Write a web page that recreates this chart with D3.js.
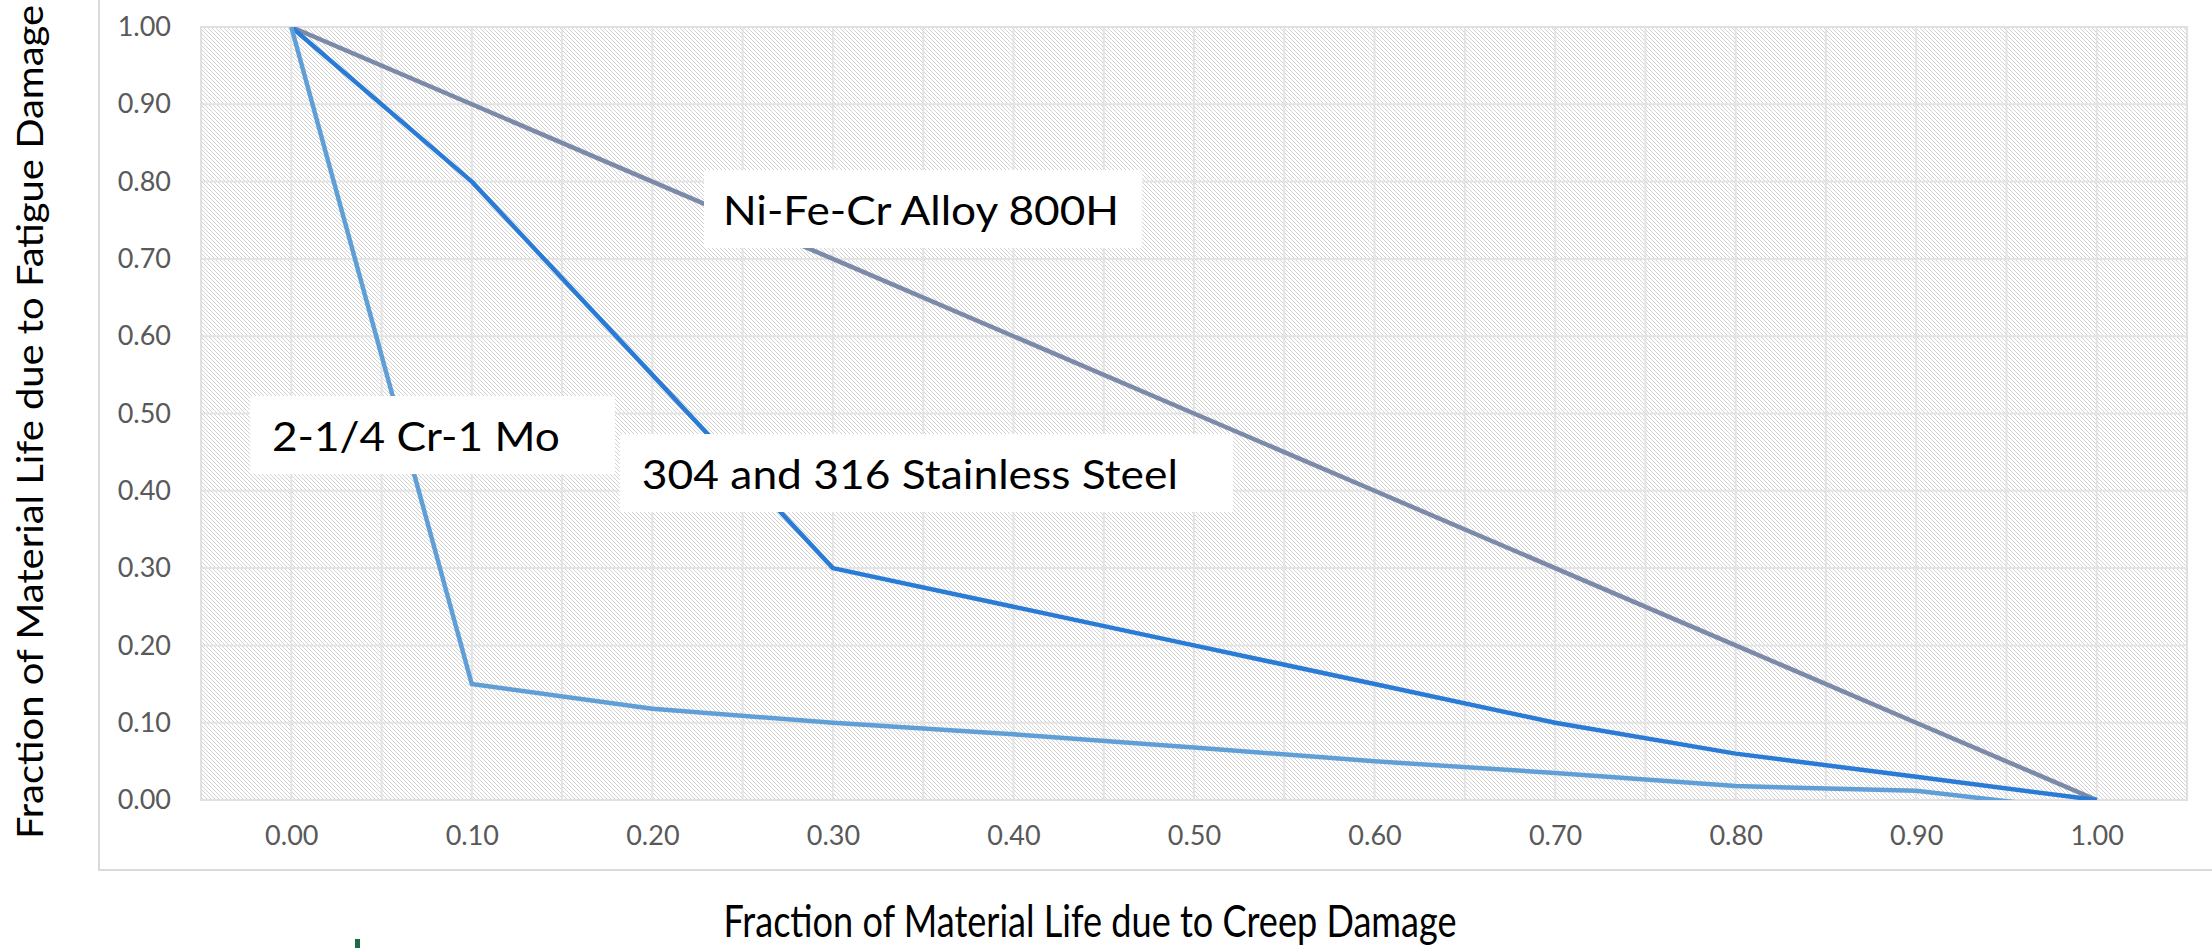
<!DOCTYPE html>
<html>
<head>
<meta charset="utf-8">
<script src="https://cdn.jsdelivr.net/npm/d3@7.9.0/dist/d3.min.js"></script>
<style>
  html, body { margin: 0; padding: 0; background: #fff; }
  svg { display: block; font-family: Lato, "Noto Sans", sans-serif; }
</style>
</head>
<body>
<svg id="chart" width="2212" height="948"></svg>
<script>
// ---- Data ----
const creepFraction = [0, 0.1, 0.2, 0.3, 0.4, 0.5, 0.6, 0.7, 0.8, 0.9, 1.0];
const alloy800H = [1.0, 0.9, 0.8, 0.7, 0.6, 0.5, 0.4, 0.3, 0.2, 0.1, 0.0];
const stainless304316 = [1.0, 0.8, 0.55, 0.3, 0.25, 0.2, 0.15, 0.1, 0.06, 0.03, 0.0];
const crMo = [1.0, 0.15, 0.118, 0.1, 0.085, 0.068, 0.05, 0.035, 0.018, 0.012, -0.015];
const yTicks = [0, 0.1, 0.2, 0.3, 0.4, 0.5, 0.6, 0.7, 0.8, 0.9, 1.0];
const xTicks = [0, 0.1, 0.2, 0.3, 0.4, 0.5, 0.6, 0.7, 0.8, 0.9, 1.0];

const seriesNames = ['Ni-Fe-Cr Alloy 800H', '304 and 316 Stainless Steel', '2-1/4 Cr-1 Mo'];
const seriesValues = [alloy800H, stainless304316, crMo];
const seriesColors = ['#7a8aa8', '#2a7bd6', '#5f9fd6'];

// ---- Layout ----
const svg = d3.select('#chart');
const plot = { left: 201, right: 2187, top: 27, bottom: 800 };

const x = d3.scaleLinear().domain([-0.05, 1.05]).range([plot.left, plot.right]);
const y = d3.scaleLinear().domain([0, 1]).range([plot.bottom, plot.top]);

// hatch fill for plot area
const defs = svg.append('defs');
const pat = defs.append('pattern')
  .attr('id', 'hatch')
  .attr('patternUnits', 'userSpaceOnUse')
  .attr('width', 4).attr('height', 4);
pat.append('rect').attr('width', 4).attr('height', 4).attr('fill', '#fff');
d3.range(4).forEach((i) => {
  pat.append('rect').attr('x', i).attr('y', i).attr('width', 1).attr('height', 1).attr('fill', '#d2d2d2');
});
defs.append('clipPath').attr('id', 'plotClip')
  .append('rect')
  .attr('x', plot.left).attr('y', plot.top)
  .attr('width', plot.right - plot.left).attr('height', plot.bottom - plot.top);

// chart area frame (partly outside picture)
svg.append('rect')
  .attr('x', 99).attr('y', -20)
  .attr('width', 2300).attr('height', 890)
  .attr('fill', 'none').attr('stroke', '#d9d9d9').attr('stroke-width', 2);

svg.append('rect')
  .attr('x', plot.left).attr('y', plot.top)
  .attr('width', plot.right - plot.left).attr('height', plot.bottom - plot.top)
  .attr('fill', 'url(#hatch)');

// gridlines
const grid = svg.append('g').attr('stroke', '#e3e3e3').attr('stroke-width', 2);
d3.range(0, 23).forEach((i) => {
  const gx = x(-0.05 + i * 0.05);
  grid.append('line').attr('x1', gx).attr('x2', gx).attr('y1', plot.top).attr('y2', plot.bottom);
});
yTicks.forEach((t) => {
  grid.append('line').attr('x1', plot.left).attr('x2', plot.right).attr('y1', y(t)).attr('y2', y(t));
});
svg.append('rect')
  .attr('x', plot.left).attr('y', plot.top)
  .attr('width', plot.right - plot.left).attr('height', plot.bottom - plot.top)
  .attr('fill', 'none').attr('stroke', '#e0e0e0').attr('stroke-width', 2);

// axes
const fmt = d3.format('.2f');
const yAxis = svg.append('g')
  .attr('transform', `translate(${plot.left - 27},0)`)
  .call(d3.axisLeft(y).tickValues(yTicks).tickFormat(fmt).tickSize(0));
const xAxis = svg.append('g')
  .attr('transform', `translate(0,${plot.bottom + 23})`)
  .call(d3.axisBottom(x).tickValues(xTicks).tickFormat(fmt).tickSize(0));
[yAxis, xAxis].forEach((a) => {
  a.select('.domain').remove();
  a.selectAll('text')
    .attr('fill', '#595959')
    .style('font-size', '27px')
    .style('font-family', 'Lato, "Noto Sans", sans-serif');
});

// lines
const line = d3.line()
  .x((d) => x(d[0]))
  .y((d) => y(d[1]));
const lines = svg.append('g').attr('clip-path', 'url(#plotClip)');
seriesValues.forEach((vals, i) => {
  lines.append('path')
    .datum(creepFraction.map((c, j) => [c, vals[j]]))
    .attr('d', line)
    .attr('fill', 'none')
    .attr('stroke', seriesColors[i])
    .attr('stroke-width', 4.5)
    .attr('stroke-linejoin', 'round');
});

// series labels (white boxes)
const labels = [
  { text: seriesNames[0], at: [0.2286, 0.815], boxW: 438, textW: 396, padL: 19 },
  { text: seriesNames[2], at: [-0.0229, 0.5226], boxW: 365, textW: 288, padL: 22 },
  { text: seriesNames[1], at: [0.182, 0.4735], boxW: 613, textW: 536, padL: 22 }
];
labels.forEach((l) => {
  const bx = x(l.at[0]);
  const by = y(l.at[1]);
  svg.append('rect')
    .attr('x', bx).attr('y', by)
    .attr('width', l.boxW).attr('height', 78)
    .attr('fill', '#fff');
  svg.append('text')
    .attr('x', bx + l.padL).attr('y', by + 55)
    .attr('font-size', 41)
    .attr('fill', '#000')
    .attr('textLength', l.textW)
    .attr('lengthAdjust', 'spacingAndGlyphs')
    .text(l.text);
});

// axis titles
svg.append('text')
  .attr('x', 1090).attr('y', 937)
  .attr('text-anchor', 'middle')
  .attr('font-size', 44)
  .attr('fill', '#000')
  .attr('textLength', 733)
  .attr('lengthAdjust', 'spacingAndGlyphs')
  .text('Fraction of Material Life due to Creep Damage');

svg.append('text')
  .attr('transform', 'translate(43,422) rotate(-90)')
  .attr('text-anchor', 'middle')
  .attr('font-size', 37)
  .attr('fill', '#000')
  .attr('textLength', 834)
  .attr('lengthAdjust', 'spacingAndGlyphs')
  .text('Fraction of Material Life due to Fatigue Damage');

// small green mark at the lower edge (cut-off logo)
svg.append('rect')
  .attr('x', 355).attr('y', 939)
  .attr('width', 5).attr('height', 9)
  .attr('fill', '#1d6b45');
</script>
</body>
</html>
